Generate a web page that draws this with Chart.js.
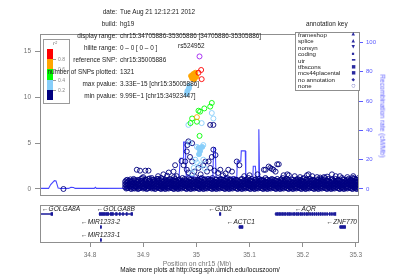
<!DOCTYPE html>
<html><head><meta charset="utf-8">
<script src="https://cdn.jsdelivr.net/npm/chart.js@4.4.0/dist/chart.umd.min.js"></script>
<style>
body{margin:0;background:#fff;}
#wrap{position:relative;width:399px;height:279px;overflow:hidden;font-family:"Liberation Sans",Arial,sans-serif;}
canvas{position:absolute;left:0;top:0;}
.t{position:absolute;white-space:nowrap;line-height:1;}
</style></head>
<body><div id="wrap">
<canvas id="genes" width="399" height="279"></canvas>
<canvas id="main" width="399" height="279"></canvas>
</div>
<script>
// ---------------- data ----------------
const xMin = 34.705886, xMax = 35.305886;
const xTicks = [34.8, 34.9, 35.0, 35.1, 35.2, 35.3];
const yTicks = [0, 5, 10, 15];
const recombTicks = [0, 20, 40, 60, 80, 100];

// reference SNP rs524952
const refSnp = [[35.005886, 14.48]];
const redOpen = [[35.009, 13.0], [35.004, 12.7], [35.010, 12.0]];
const orangeFilled = [[34.990, 12.35], [34.994, 12.55], [34.998, 12.7], [35.000, 12.25], [34.992, 12.1], [34.996, 12.0]];
const orangeOpen = [[35.001, 7.85]];
const greenOpen = [[35.029, 9.4], [35.026, 9.0], [35.015, 8.8], [35.004, 8.55], [35.007, 8.45], [34.992, 7.7], [35.001, 7.35], [34.989, 7.2], [35.006, 5.8]];
const lightFilled = [[34.983, 10.7], [34.986, 11.0], [34.982, 10.4], [34.987, 11.3], [35.004, 4.5], [35.007, 4.15], [35.011, 4.6], [35.005, 3.8]];
const lightOpen = [[35.029, 8.3], [35.032, 7.7], [35.010, 7.2], [34.985, 7.0], [34.987, 5.05], [35.001, 4.6], [35.013, 4.8], [34.998, 3.2], [35.013, 3.2], [35.007, 2.6], [35.001, 2.9], [34.992, 1.7], [35.016, 2.2], [34.995, 2.3]];
const navyOut = [[34.750, 0.0], [34.888, 2.1], [34.894, 2.0], [34.904, 2.0], [34.910, 2.0], [34.916, 1.2], [34.938, 1.6], [34.945, 1.45], [34.948, 1.8], [34.957, 1.9], [34.960, 2.6], [34.972, 3.05], [34.982, 4.1], [34.988, 3.5], [34.979, 3.0], [34.992, 3.0], [34.982, 2.1], [35.004, 2.3], [34.985, 5.2], [34.992, 5.0], [34.983, 4.8], [35.026, 7.0], [35.032, 7.0], [35.017, 3.0], [35.023, 3.0], [35.029, 3.5], [35.032, 4.3], [35.036, 3.7], [35.013, 2.6], [35.026, 2.3], [35.045, 2.1], [35.041, 1.75], [35.060, 2.1], [35.067, 1.9], [35.076, 3.0], [35.081, 2.6], [35.127, 2.1], [35.130, 2.1], [35.136, 2.45], [35.139, 2.3], [35.142, 2.2], [35.145, 2.1], [35.149, 1.9], [35.152, 2.7], [35.155, 2.7], [35.164, 1.5], [35.171, 1.6], [35.174, 1.5], [35.208, 1.5], [35.211, 1.6], [35.227, 1.3], [35.233, 1.25], [35.246, 1.35], [35.255, 1.6], [35.262, 1.4], [35.284, 1.3],
  [34.976, 2.6], [34.985, 1.8], [34.996, 1.9], [35.008, 1.6], [35.020, 1.9], [35.034, 2.0], [35.050, 1.5], [35.055, 1.7], [34.963, 1.4], [34.928, 1.4], [34.900, 1.3], [35.090, 1.4], [35.100, 1.5], [35.115, 1.6], [35.185, 1.4], [35.195, 1.3], [35.218, 1.4], [35.240, 1.3], [35.270, 1.4], [35.295, 1.4]];
// dense band: [position, values...]
const navyBand = [
[34.866,0.2,0.5,0.8],[34.870,0.1,0.4,0.7,1.0],[34.874,0.3,0.6,0.9],[34.878,0.0,0.2,0.5,0.8],[34.882,0.1,0.4,0.7,1.1],
[34.886,0.2,0.3,0.6,0.9],[34.890,0.0,0.5,0.8,1.0],[34.894,0.1,0.4,0.7],[34.898,0.3,0.6,0.9,1.2],[34.902,0.1,0.2,0.5,0.9],
[34.906,0.0,0.4,0.7,1.0],[34.910,0.1,0.3,0.6,1.1],[34.914,0.2,0.5,0.8],[34.918,0.1,0.4,0.7,1.0],[34.922,0.0,0.3,0.6,0.9],
[34.926,0.2,0.5,0.8,1.1],[34.930,0.1,0.4,0.7,1.0],[34.934,0.0,0.3,0.6,0.9,1.2],[34.938,0.1,0.2,0.5,0.8],[34.942,0.0,0.4,0.7,1.0],
[34.946,0.1,0.3,0.6,0.9],[34.950,0.2,0.5,0.8,1.1],[34.954,0.1,0.4,0.7,1.0],[34.958,0.0,0.3,0.6,0.9,1.3],[34.962,0.1,0.2,0.5,0.8],
[34.966,0.0,0.4,0.7,1.0],[34.970,0.1,0.3,0.6,0.9],[34.974,0.2,0.5,0.8,1.2],[34.978,0.1,0.4,0.7,1.1],[34.982,0.0,0.3,0.6,0.9],
[34.986,0.1,0.2,0.5,0.8,1.2],[34.990,0.0,0.4,0.7,1.0],[34.994,0.1,0.3,0.6,0.9],[34.998,0.2,0.5,0.8,1.3],[35.002,0.1,0.4,0.7,1.0],
[35.006,0.0,0.3,0.6,0.9],[35.010,0.1,0.2,0.5,0.8,1.2],[35.014,0.0,0.4,0.7,1.0],[35.018,0.1,0.3,0.6,0.9],[35.022,0.2,0.5,0.8,1.1],
[35.026,0.1,0.4,0.7,1.0],[35.030,0.0,0.3,0.6,0.9,1.2],[35.034,0.1,0.2,0.5,0.8],[35.038,0.0,0.4,0.7,1.0],[35.042,0.1,0.3,0.6,0.9],
[35.046,0.2,0.5,0.8,1.1],[35.050,0.1,0.4,0.7,1.0],[35.054,0.0,0.3,0.6,0.9],[35.058,0.1,0.2,0.5,0.8,1.2],[35.062,0.0,0.4,0.7,1.0],
[35.066,0.1,0.3,0.6,0.9],[35.070,0.2,0.5,0.8,1.1],[35.074,0.1,0.4,0.7,1.0],[35.078,0.0,0.3,0.6,0.9],[35.082,0.1,0.2,0.5,0.8],
[35.086,0.0,0.4,0.7,1.1],[35.090,0.1,0.3,0.6,0.9],[35.094,0.2,0.5,0.8,1.0],[35.098,0.1,0.4,0.7,1.2],[35.102,0.0,0.3,0.6,0.9],
[35.106,0.1,0.2,0.5,0.8],[35.110,0.0,0.4,0.7,1.0],[35.114,0.1,0.3,0.6,0.9],[35.118,0.2,0.5,0.8,1.1],[35.122,0.1,0.4,0.7,1.0],
[35.126,0.0,0.3,0.6,0.9],[35.130,0.1,0.2,0.5,0.8,1.2],[35.134,0.0,0.4,0.7,1.0],[35.138,0.1,0.3,0.6,0.9],[35.142,0.2,0.5,0.8,1.1],
[35.146,0.1,0.4,0.7,1.0],[35.150,0.0,0.3,0.6,0.9],[35.154,0.1,0.2,0.5,0.8],[35.158,0.0,0.4,0.7,1.0],[35.162,0.1,0.3,0.6,0.9,1.2],
[35.166,0.2,0.5,0.8,1.0],[35.170,0.1,0.4,0.7,1.1],[35.174,0.0,0.3,0.6,0.9],[35.178,0.1,0.2,0.5,0.8],[35.182,0.0,0.4,0.7,1.0],
[35.186,0.1,0.3,0.6,0.9],[35.190,0.2,0.5,0.8,1.1],[35.194,0.1,0.4,0.7,1.0],[35.198,0.0,0.3,0.6,0.9],[35.202,0.1,0.2,0.5,0.8,1.2],
[35.206,0.0,0.4,0.7,1.0],[35.210,0.1,0.3,0.6,0.9],[35.214,0.2,0.5,0.8,1.1],[35.218,0.1,0.4,0.7,1.0],[35.222,0.0,0.3,0.6,0.9],
[35.226,0.1,0.2,0.5,0.8],[35.230,0.0,0.4,0.7,1.0],[35.234,0.1,0.3,0.6,0.9,1.1],[35.238,0.2,0.5,0.8,1.0],[35.242,0.1,0.4,0.7,1.2],
[35.246,0.0,0.3,0.6,0.9],[35.250,0.1,0.2,0.5,0.8],[35.254,0.0,0.4,0.7,1.0],[35.258,0.1,0.3,0.6,0.9],[35.262,0.2,0.5,0.8,1.1],
[35.266,0.1,0.4,0.7,1.0],[35.270,0.0,0.3,0.6,0.9],[35.274,0.1,0.2,0.5,0.8,1.2],[35.278,0.0,0.4,0.7,1.0],[35.282,0.1,0.3,0.6,0.9],
[35.286,0.2,0.5,0.8,1.1],[35.290,0.1,0.4,0.7,1.0],[35.294,0.0,0.3,0.6,0.9,1.2],[35.298,0.1,0.2,0.5,0.8,1.1],[35.302,0.0,0.4,0.7,1.0],
[35.305,0.2,0.5,0.8,1.2]
];
const navyBand2 = [
[34.868,0.05,0.35,0.65,0.95],[34.872,0.15,0.45,0.85],[34.876,0.05,0.35,0.75,1.05],[34.880,0.25,0.55,0.9],[34.884,0.05,0.3,0.65,1.0],
[34.888,0.15,0.45,0.75],[34.892,0.05,0.35,0.6,0.95],[34.896,0.2,0.5,0.85,1.1],[34.900,0.05,0.3,0.7],[34.904,0.15,0.45,0.8,1.05],
[34.908,0.05,0.35,0.65],[34.912,0.25,0.55,0.9,1.15],[34.916,0.05,0.3,0.6],[34.920,0.15,0.45,0.8,1.0],[34.924,0.05,0.35,0.7],
[34.928,0.2,0.5,0.85,1.1],[34.932,0.05,0.3,0.65],[34.936,0.15,0.45,0.75,1.05],[34.940,0.05,0.35,0.6,0.9],[34.944,0.2,0.55,0.85],
[34.948,0.05,0.3,0.65,1.0],[34.952,0.15,0.45,0.75],[34.956,0.05,0.35,0.6,0.95],[34.960,0.2,0.5,0.85,1.1],[34.964,0.05,0.3,0.7],
[34.968,0.15,0.45,0.8,1.05],[34.972,0.05,0.35,0.65],[34.976,0.25,0.55,0.9],[34.980,0.05,0.3,0.6,1.0],[34.984,0.15,0.45,0.8],
[34.988,0.05,0.35,0.7,1.05],[34.992,0.2,0.5,0.85],[34.996,0.05,0.3,0.65,1.0],[35.000,0.15,0.45,0.75],[35.004,0.05,0.35,0.6,0.95],
[35.008,0.2,0.5,0.85,1.1],[35.012,0.05,0.3,0.7],[35.016,0.15,0.45,0.8,1.05],[35.020,0.05,0.35,0.65],[35.024,0.25,0.55,0.9],
[35.028,0.05,0.3,0.6,1.0],[35.032,0.15,0.45,0.8],[35.036,0.05,0.35,0.7,1.05],[35.040,0.2,0.5,0.85],[35.044,0.05,0.3,0.65,1.0],
[35.048,0.15,0.45,0.75],[35.052,0.05,0.35,0.6,0.95],[35.056,0.2,0.5,0.85,1.1],[35.060,0.05,0.3,0.7],[35.064,0.15,0.45,0.8,1.05],
[35.068,0.05,0.35,0.65],[35.072,0.25,0.55,0.9],[35.076,0.05,0.3,0.6,1.0],[35.080,0.15,0.45,0.8],[35.084,0.05,0.35,0.7,1.05],
[35.088,0.2,0.5,0.85],[35.092,0.05,0.3,0.65,1.0],[35.096,0.15,0.45,0.75],[35.100,0.05,0.35,0.6,0.95],[35.104,0.2,0.5,0.85,1.1],
[35.108,0.05,0.3,0.7],[35.112,0.15,0.45,0.8,1.05],[35.116,0.05,0.35,0.65],[35.120,0.25,0.55,0.9],[35.124,0.05,0.3,0.6,1.0],
[35.128,0.15,0.45,0.8],[35.132,0.05,0.35,0.7,1.05],[35.136,0.2,0.5,0.85],[35.140,0.05,0.3,0.65,1.0],[35.144,0.15,0.45,0.75],
[35.148,0.05,0.35,0.6,0.95],[35.152,0.2,0.5,0.85,1.1],[35.156,0.05,0.3,0.7],[35.160,0.15,0.45,0.8,1.05],[35.164,0.05,0.35,0.65],
[35.168,0.25,0.55,0.9],[35.172,0.05,0.3,0.6,1.0],[35.176,0.15,0.45,0.8],[35.180,0.05,0.35,0.7,1.05],[35.184,0.2,0.5,0.85],
[35.188,0.05,0.3,0.65,1.0],[35.192,0.15,0.45,0.75],[35.196,0.05,0.35,0.6,0.95],[35.200,0.2,0.5,0.85,1.1],[35.204,0.05,0.3,0.7],
[35.208,0.15,0.45,0.8,1.05],[35.212,0.05,0.35,0.65],[35.216,0.25,0.55,0.9],[35.220,0.05,0.3,0.6,1.0],[35.224,0.15,0.45,0.8],
[35.228,0.05,0.35,0.7,1.05],[35.232,0.2,0.5,0.85],[35.236,0.05,0.3,0.65,1.0],[35.240,0.15,0.45,0.75],[35.244,0.05,0.35,0.6,0.95],
[35.248,0.2,0.5,0.85,1.1],[35.252,0.05,0.3,0.7],[35.256,0.15,0.45,0.8,1.05],[35.260,0.05,0.35,0.65],[35.264,0.25,0.55,0.9],
[35.268,0.05,0.3,0.6,1.0],[35.272,0.15,0.45,0.8],[35.276,0.05,0.35,0.7,1.05],[35.280,0.2,0.5,0.85],[35.284,0.05,0.3,0.65,1.0],
[35.288,0.15,0.45,0.75],[35.292,0.05,0.35,0.6,0.95],[35.296,0.2,0.5,0.85,1.15],[35.300,0.05,0.3,0.7,1.0],[35.304,0.15,0.45,0.8]
];
// recombination rate (cM/Mb)
const recombPos = [34.706, 34.722, 34.726, 34.733, 34.736, 34.740, 34.745, 34.760, 34.764, 34.769, 34.772, 34.808, 34.810, 34.812, 34.966, 34.9697, 34.975, 34.976, 34.979, 34.981, 35.000, 35.031, 35.0324, 35.0356, 35.037, 35.060, 35.076, 35.077, 35.0835, 35.0845, 35.092, 35.093, 35.106, 35.107, 35.111, 35.113, 35.117, 35.1175, 35.119, 35.150, 35.200, 35.250, 35.306];
const recombRate = [0.4, 0.4, 3.0, 5.7, 5.5, 0.6, 0.3, 0.4, 1.2, 1.0, 0.4, 0.4, 1.1, 0.4, 0.5, 21, 21, 32, 32, 9, 8, 8, 28, 28, 8, 8, 8, 19, 19, 26, 26, 5, 5, 15.5, 15.5, 4, 4, 40.7, 3, 4, 3.5, 4, 4];

// genes
const geneNames = ["GOLGA8A", "GOLGA8B", "MIR1233-2", "MIR1233-1", "GJD2", "ACTC1", "AQR", "ZNF770"];
const geneStart = [34.670, 34.817, 34.8195, 34.8195, 35.0434, 35.0800, 35.1480, 35.2695];
const geneEnd = [34.7297, 34.8800, 34.8205, 34.8205, 35.0459, 35.0875, 35.2620, 35.2805];
const geneRow = [1, 1, 2, 3, 1, 2, 1, 2];
const exons = [
 [[34.7265, 34.7297]],
 [[34.8175, 34.8275], [34.829, 34.835], [34.838, 34.844], [34.848, 34.851], [34.855, 34.857], [34.861, 34.863], [34.868, 34.870], [34.877, 34.880]],
 [[34.8195, 34.8205]],
 [[34.8195, 34.8205]],
 [[35.0434, 35.0459]],
 [[35.0805, 35.0875]],
 [[35.149,35.1503],[35.152,35.1533],[35.155,35.1563],[35.158,35.1593],[35.161,35.1623],[35.164,35.1653],[35.167,35.1683],[35.171,35.1723],[35.174,35.1753],[35.177,35.1783],[35.181,35.1823],[35.184,35.1853],[35.188,35.1893],[35.191,35.1923],[35.195,35.1963],[35.198,35.1993],[35.202,35.2033],[35.206,35.2073],[35.209,35.2103],[35.213,35.2143],[35.217,35.2183],[35.221,35.2223],[35.225,35.2263],[35.229,35.2303],[35.233,35.2343],[35.237,35.2383],[35.241,35.2423],[35.245,35.2463],[35.250,35.2513],[35.254,35.2553],[35.258,35.2593],[35.2605,35.262]],
 [[35.2700, 35.2805]]
];

// info text
const infoLabels = ["date:", "build:", "display range:", "hilite range:", "reference SNP:", "number of SNPs plotted:", "max pvalue:", "min pvalue:"];
const infoValues = ["Tue Aug 21 12:12:21 2012", "hg19", "chr15:34705886-35305886 [34705886-35305886]", "0 \u2013 0  [ 0 \u2013 0 ]", "chr15:35005886", "1321", "3.33E\u221215 [chr15:35005886]", "9.99E\u22121 [chr15:34923447]"];
const annotKeys = ["frameshop", "splice", "nonsyn", "coding", "utr", "tfbscons", "mcs44placental", "no annotation", "none"];
const annotSyms = ["\u25B2", "\u25B2", "\u25BC", "\u25AA", "\u25AC", "\u25A0", "\u25A0", "\u25C6", "\u25CB"];
const r2Labels = ["0.8", "0.6", "0.4", "0.2"];
const r2Colors = ["#ff0000", "#ffa500", "#00ff00", "#87cefa", "#000080"];

// ---------------- drawing ----------------
const FONT = '"Liberation Sans", Arial, sans-serif';
const wrap = document.getElementById('wrap');
function addText(txt, css) {
  const d = document.createElement('div');
  d.className = 't';
  d.textContent = txt;
  Object.assign(d.style, css);
  wrap.appendChild(d);
  return d;
}
const toPts = a => a.map(p => ({x: p[0], y: p[1]}));
const navyPts = [];
navyBand.concat(navyBand2).forEach(c => { for (let i = 1; i < c.length; i++) navyPts.push({x: c[0], y: c[i]}); });
toPts(navyOut).forEach(p => navyPts.push(p));

const framePlugin = {
  id: 'frame',
  afterDraw(c) {
    const a = c.chartArea, ctx = c.ctx;
    ctx.save();
    ctx.strokeStyle = '#8f8f8f';
    ctx.lineWidth = 1;
    ctx.strokeRect(a.left + 0.5, a.top + 0.5, a.right - a.left - 1, a.bottom - a.top - 1);
    ctx.restore();
  }
};

function ptSet(pts, color, filled, order) {
  return {type: 'scatter', data: pts, borderColor: color, backgroundColor: filled ? color : 'rgba(0,0,0,0)',
    pointRadius: 2.5, pointBorderWidth: 0.9, pointStyle: 'circle', order: order, yAxisID: 'y'};
}

new Chart(document.getElementById('main'), {
  type: 'scatter',
  data: {datasets: [
    ptSet(toPts(refSnp), '#a020f0', false, 0),
    ptSet(toPts(redOpen), '#ff0000', false, 1),
    ptSet(toPts(orangeFilled), '#ffa500', true, 2),
    ptSet(toPts(orangeOpen), '#ffa500', false, 2),
    ptSet(toPts(greenOpen), '#00ff00', false, 3),
    ptSet(toPts(lightFilled), '#87cefa', true, 4),
    ptSet(toPts(lightOpen), '#87cefa', false, 4),
    ptSet(navyPts, '#000080', false, 5),
    {type: 'line', data: recombPos.map((p, i) => ({x: p, y: recombRate[i]})), yAxisID: 'y2',
     borderColor: 'rgba(50,50,255,0.9)', borderWidth: 1.1, pointRadius: 0, tension: 0, order: 6, fill: false}
  ]},
  options: {
    responsive: false, animation: false, devicePixelRatio: 1,
    layout: {padding: {left: 0, right: 0, top: 34, bottom: 83}},
    plugins: {legend: {display: false}, tooltip: {enabled: false}},
    scales: {
      x: {type: 'linear', display: false, min: xMin, max: xMax},
      y: {type: 'linear', position: 'left', min: -0.765, max: 16.93,
          afterBuildTicks(s) { s.ticks = yTicks.map(v => ({value: v})); },
          afterFit(s) { s.width = 40; },
          ticks: {color: '#707070', font: {size: 6.5, family: FONT}, padding: 4},
          grid: {drawOnChartArea: false, tickLength: 5, color: '#8f8f8f'}, border: {display: false}},
      y2: {type: 'linear', position: 'right', min: -4.78, max: 105.8,
          afterBuildTicks(s) { s.ticks = recombTicks.map(v => ({value: v})); },
          afterFit(s) { s.width = 40; },
          ticks: {color: '#5a5aff', font: {size: 6, family: FONT}, padding: 3},
          grid: {drawOnChartArea: false, tickLength: 4, color: '#5a5aff'}, border: {display: false}}
    }
  },
  plugins: [framePlugin]
});

// gene panel
const intronData = [], exonData = [];
geneNames.forEach((g, i) => {
  intronData.push({x: [geneStart[i], geneEnd[i]], y: geneRow[i]});
  exons[i].forEach(e => exonData.push({x: [e[0], e[1]], y: geneRow[i]}));
});
const geneLabelPlugin = {
  id: 'geneLabels',
  afterDatasetsDraw(c) {
    const ctx = c.ctx, xs = c.scales.x, ys = c.scales.y, a = c.chartArea;
    ctx.save();
    ctx.font = 'italic 6.6px ' + FONT;
    ctx.fillStyle = '#222';
    ctx.textBaseline = 'middle';
    ctx.textAlign = 'center';
    geneNames.forEach((g, i) => {
      const t = '\u2190' + g;
      const w = ctx.measureText(t).width;
      let cx = (xs.getPixelForValue(Math.max(geneStart[i], xMin)) + xs.getPixelForValue(Math.min(geneEnd[i], xMax))) / 2;
      cx = Math.max(a.left + w / 2 + 2, Math.min(a.right - w / 2 - 2, cx));
      ctx.fillText(t, cx, ys.getPixelForValue(geneRow[i]) - 5);
    });
    ctx.restore();
  }
};
new Chart(document.getElementById('genes'), {
  type: 'bar',
  data: {datasets: [
    {data: intronData, backgroundColor: '#1a1a9a', barThickness: 1, grouped: false, minBarLength: 1},
    {data: exonData, backgroundColor: '#1a1a9a', barThickness: 3, grouped: false, minBarLength: 1}
  ]},
  options: {
    indexAxis: 'y', responsive: false, animation: false, devicePixelRatio: 1,
    layout: {padding: {left: 40, right: 40, top: 205, bottom: 0}},
    plugins: {legend: {display: false}, tooltip: {enabled: false}},
    scales: {
      x: {type: 'linear', min: xMin, max: xMax,
          afterBuildTicks(s) { s.ticks = xTicks.map(v => ({value: v})); },
          afterFit(s) { s.height = 36; },
          ticks: {color: '#707070', font: {size: 6.5, family: FONT}, padding: 4, maxRotation: 0,
                  callback: v => String(+(+v).toFixed(1))},
          grid: {drawOnChartArea: false, tickLength: 4, color: '#8f8f8f'}, border: {display: false}},
      y: {type: 'linear', display: false, reverse: true, min: 0.31, max: 3.23, offset: false}
    }
  },
  plugins: [framePlugin, geneLabelPlugin]
});

// r2 legend
const leg = document.createElement('div');
Object.assign(leg.style, {position: 'absolute', left: '43px', top: '39px', width: '25px', height: '63px', border: '1px solid #9a9a9a', background: '#fff'});
wrap.appendChild(leg);
addText('r\u00B2', {left: '53px', top: '40px', fontSize: '6px', color: '#777', fontStyle: 'italic'});
r2Colors.forEach((c, i) => {
  const b = document.createElement('div');
  Object.assign(b.style, {position: 'absolute', left: '47px', top: (49 + i * 10.2) + 'px', width: '6px', height: '10.2px', background: c});
  wrap.appendChild(b);
});
r2Labels.forEach((l, i) => {
  const y = 59.2 + i * 10.2;
  const tk = document.createElement('div');
  Object.assign(tk.style, {position: 'absolute', left: '53px', top: (y) + 'px', width: '3px', height: '1px', background: '#999'});
  wrap.appendChild(tk);
  addText(l, {left: '58px', top: (y - 2) + 'px', fontSize: '5px', color: '#888'});
});

// info text
infoLabels.forEach((l, i) => {
  const cy = 12.5 + i * 11.95;
  addText(l, {right: (399 - 117) + 'px', top: (cy - 3.6) + 'px', fontSize: '6.4px', color: '#222', textAlign: 'right'});
  addText(infoValues[i], {left: '120px', top: (cy - 3.6) + 'px', fontSize: '6.4px', color: '#222'});
});
addText('rs524952', {left: '178px', top: '42.5px', fontSize: '6.4px', color: '#222'});

// annotation key
addText('annotation key', {left: '306px', top: '20.5px', fontSize: '6.4px', color: '#222'});
const ak = document.createElement('div');
Object.assign(ak.style, {position: 'absolute', left: '295px', top: '32px', width: '63px', height: '57px', border: '1px solid #8f8f8f', background: '#fff'});
wrap.appendChild(ak);
annotKeys.forEach((k, i) => {
  const cy = 35 + i * 6.45;
  addText(k, {left: '298px', top: (cy - 3.3) + 'px', fontSize: '6.1px', color: '#222'});
  addText(annotSyms[i], {left: '351.5px', top: (cy - 2.6) + 'px', fontSize: '4.5px', color: '#2a2aa0', fontFamily: '"DejaVu Sans", sans-serif'});
});

// axis titles / footer
const rt = addText('Recombination rate (cM/Mb)', {left: '382px', top: '116px', fontSize: '6.6px', color: '#5a5aff'});
rt.style.transform = 'translate(-50%,-50%) rotate(90deg)';
addText('Position on chr15 (Mb)', {left: '197px', top: '260.5px', fontSize: '6.8px', color: '#777', transform: 'translateX(-50%)'});
addText('Make more plots at http://csg.sph.umich.edu/locuszoom/', {left: '200px', top: '266.5px', fontSize: '6.4px', color: '#111', transform: 'translateX(-50%)'});
</script>
</body></html>
